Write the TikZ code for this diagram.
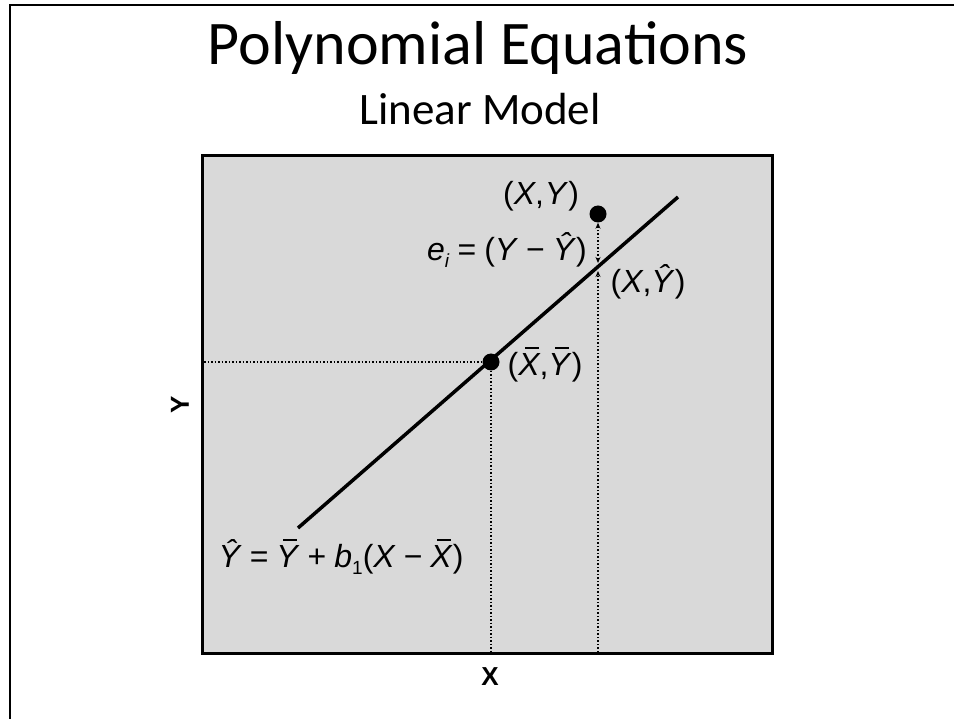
\documentclass[tikz,border=0pt]{standalone}
\usepackage{fontspec}
\setmainfont{Liberation Sans}
\newfontfamily\slidefont{Carlito}
\usetikzlibrary{arrows.meta}
\definecolor{plotgray}{HTML}{D9D9D9}
\newcommand{\va}[1]{\textit{#1}}
\newcommand{\hatv}[1]{\textit{#1}}
\newcommand{\barv}[1]{\leavevmode\rlap{\kern7pt\rule[27pt]{14pt}{1.4pt}}\textit{#1}}
\newcommand{\lowsub}[1]{{\fontsize{19}{19}\selectfont\raisebox{-7pt}{#1}}}
\newcommand{\gap}{\hspace{0.25em}}
\tikzset{
  eqlabel/.style={font=\fontsize{32}{34}\selectfont, inner sep=0pt},
  axislabel/.style={font=\bfseries\fontsize{26}{26}\selectfont, inner sep=0pt},
  guide/.style={dotted, line width=1.5pt},
  dot/.style={circle, fill=black, inner sep=0pt, minimum size=17pt},
  tip/.style={-{Stealth[length=6pt,width=5pt]}},
  twotips/.style={{Stealth[length=6pt,width=5pt]}-{Stealth[length=6pt,width=5pt]}}
}
\begin{document}
\begin{tikzpicture}[x=1pt,y=-1pt]
\useasboundingbox (0,0) rectangle (954,719);
\draw[line width=2.5pt] (10,719) -- (10,5) -- (954,5);

\node[anchor=base, font=\slidefont\fontsize{62}{64}\selectfont] (title) at (478,65) {Polynomial Equations};
\node[anchor=base, font=\slidefont\fontsize{45}{47}\selectfont] (subtitle) at (480,125) {Linear Model};

\draw[line width=3pt, fill=plotgray] (202.5,155.5) rectangle (772.5,653.5);
\coordinate (yaxis) at (204,0);
\coordinate (xaxis) at (0,652);

\coordinate (lo) at (298,528);
\coordinate (hi) at (678,197);
\coordinate (fitbelow) at (598,271);
\coordinate (fitabove) at (598,263);
\node[dot] (mean) at (491,362) {};
\node[dot] (obs) at (598,214) {};

\draw[guide] (yaxis |- mean) -- (mean);
\draw[guide] (mean) -- (mean |- xaxis);
\draw[guide, tip] (obs |- xaxis) -- (fitbelow);
\draw[guide, twotips] (fitabove) -- (obs.south);
\draw[line width=3.5pt] (lo) -- (hi);

\node[eqlabel] (obslabel) at (541,196) {(\va{X},\kern1pt\va{Y})};
\node[eqlabel] (errlabel) at (507,250) {\va{e}\lowsub{\va{i}}\gap=\gap(\va{Y}\gap−\gap\hatv{Ŷ})};
\node[eqlabel] (fitlabel) at (648,282) {(\va{X},\hatv{Ŷ})};
\node[eqlabel] (meanlabel) at (545,365) {(\barv{X},\barv{Y})};
\node[eqlabel] (model) at (341,557) {\hatv{Ŷ}\gap=\gap\barv{Y}\gap+\gap\va{b}\lowsub{1}(\va{X}\gap−\gap\barv{X})};

\node[axislabel, rotate=90] (ylabel) at (180,405) {Y};
\node[axislabel] (xlabel) at (490,677) {X};
\end{tikzpicture}
\end{document}
